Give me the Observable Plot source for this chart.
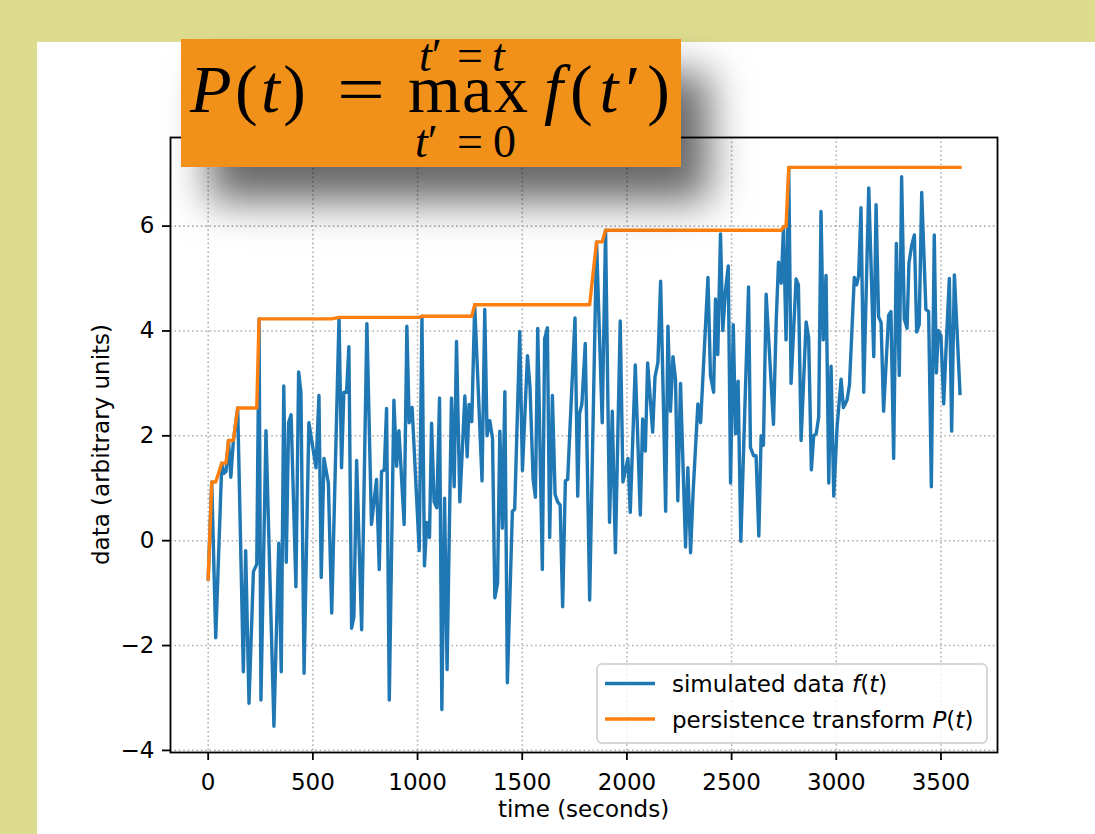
<!DOCTYPE html>
<html>
<head>
<meta charset="utf-8">
<script src="https://cdn.jsdelivr.net/npm/d3@7"></script>
<script src="https://cdn.jsdelivr.net/npm/@observablehq/plot@0.6"></script>
<style>
  html, body { margin: 0; padding: 0; }
  body { width: 1095px; height: 834px; background: #dcdb8e; position: relative; overflow: hidden; font-family: "DejaVu Sans", sans-serif; }
  #panel { position: absolute; left: 37px; top: 42px; width: 1058px; height: 792px; background: #ffffff; }
  #chart { position: absolute; left: 0; top: 0; }
  #overlay { position: absolute; left: 0; top: 0; pointer-events: none; }
  #title { position: absolute; left: 181px; top: 39px; width: 500px; height: 128px; background: #f2911a; box-shadow: 28px 34px 42px rgba(0,0,0,0.6); }
  #title svg { position: absolute; left: 0; top: 0; overflow: visible; }
</style>
</head>
<body>
<div id="panel"></div>
<div id="chart"></div>
<svg id="overlay" width="1095" height="834" font-family="DejaVu Sans" font-size="23" fill="#000"></svg>
<div id="title">
  <svg width="500" height="128" font-family="'Liberation Serif', 'DejaVu Serif', serif" fill="#000">
    <text x="9" y="73" font-size="68" textLength="116" lengthAdjust="spacing"><tspan font-style="italic">P</tspan>(<tspan font-style="italic">t</tspan>)</text>
    <text x="156" y="73" font-size="68" textLength="48" lengthAdjust="spacingAndGlyphs">=</text>
    <text font-size="68"><tspan x="227 281 313" y="73">max</tspan><tspan x="238" y="32" font-size="46" font-style="italic">t</tspan><tspan font-size="46">′</tspan><tspan x="276" y="32" font-size="46">=</tspan><tspan x="311" y="32" font-size="46" font-style="italic">t</tspan><tspan x="234" y="118" font-size="46" font-style="italic">t</tspan><tspan font-size="46">′</tspan><tspan x="276" y="118" font-size="46">=</tspan><tspan x="312" y="118" font-size="46">0</tspan></text>
    <text x="363" y="73" font-size="68" textLength="126" lengthAdjust="spacing"><tspan font-style="italic">f</tspan>(<tspan font-style="italic">t</tspan>′)</text>
  </svg>
</div>
<script>
// time in seconds
const time = [
  0,17,36,65,73,85,97,108,120,141,168,179,195,216,232,243,252,276,314,337,349,361,373,384,396,419,432,443,458,481,515,529,540,553,
  574,590,625,637,648,661,672,685,696,709,733,758,780,804,817,828,841,852,865,887,900,911,936,949,960,974,1008,1021,1033,1044,1057,1067,1079,1092,1105,1116,1129,1141,1162,1175,
  1186,1202,1226,1237,1246,1259,1273,1308,1321,1332,1345,1358,1369,1382,1393,1405,1417,1429,1453,1464,1488,1501,1525,1537,1552,1563,1574,1596,1607,1620,1631,1644,1657,1669,1681,1693,1706,1717,1752,1765,1774,
  1785,1801,1822,1855,1882,1898,1917,1930,1945,1968,1981,2005,2016,2040,2064,2075,2088,2099,2123,2134,2148,2161,2174,2185,2196,2208,2220,2232,2243,2256,2280,2291,2304,2317,2339,2352,
  2387,2399,2414,2423,2434,2447,2458,2471,2484,2495,2508,2519,2531,2544,2581,2590,2605,2617,2630,2641,2652,2665,2700,2713,2724,2737,2748,2760,2773,2784,2808,2819,2832,2856,2868,2881,2892,2904,2916,2927,2938,2951,2964,
  2975,2988,3004,3023,3034,3051,3063,3086,3097,3107,3118,3131,3155,3179,3190,3202,3214,3226,3250,3261,3274,3287,3301,3312,3325,3338,3347,3360,3373,3384,3396,3408,3428,3441,3454,3468,3478,3487,3500,3513,3527,3540,3551,3564,3591
];
// simulated data f(t)
const simulated = [
  -0.73,1.12,-1.85,1.48,1.28,1.32,1.91,1.21,1.89,2.53,-2.5,-0.19,-3.1,-0.59,-0.45,4.23,-3.04,2.1,-3.54,-0.05,-2.5,2.95,-0.41,2.25,2.4,-0.88,3.22,2.83,-2.53,2.25,1.39,2.77,-0.7,1.57,
  1.1,-1.38,4.26,1.39,2.83,2.83,3.7,-1.67,-1.45,1.53,-1.7,4.14,0.31,1.17,-0.55,1.32,1.35,2.52,-3.04,2.68,1.42,2.1,0.31,4.09,2.25,2.54,-0.19,4.28,-0.48,0.35,0.06,2.24,0.74,0.63,2.72,-3.22,0.81,-2.46,2.72,1.03,
  3.8,0.74,2.76,1.6,2.6,2.27,4.5,1.14,4.41,2.0,2.29,1.96,-1.09,-0.81,2.09,0.24,2.84,-2.71,0.56,0.6,3.99,1.34,3.53,2.94,1.17,0.83,4.05,-0.55,3.85,4.06,0.06,2.77,0.88,0.74,0.68,-1.26,1.14,1.17,4.25,0.85,2.43,
  2.61,3.76,-1.13,5.7,2.25,5.92,0.35,2.47,-0.23,4.19,1.12,1.57,0.54,3.35,0.49,2.32,1.71,3.39,2.07,3.12,3.4,4.95,2.65,0.56,4.09,2.47,3.51,3.08,0.76,3.0,-0.12,1.39,-0.23,0.99,2.61,2.25,
  5.02,3.15,2.83,4.61,3.55,5.85,4.01,4.78,5.24,1.1,4.12,2.04,3.04,-0.01,4.84,1.78,1.62,1.62,0.09,2.0,1.82,4.7,2.22,4.19,5.31,4.91,5.99,3.83,7.12,3.0,4.99,4.88,1.91,4.17,3.87,1.35,2.0,2.04,2.36,6.28,3.83,5.06,1.1,
  3.33,0.85,2.18,3.08,2.54,2.68,2.97,5.02,4.88,5.06,6.35,2.83,6.73,3.51,6.41,4.27,4.16,2.47,4.3,4.37,1.57,5.67,3.15,6.94,4.23,4.05,5.29,5.63,5.83,3.98,4.12,6.64,4.41,4.37,1.03,5.83,3.2,4.01,3.91,2.61,3.91,5.0,2.09,5.07,2.81
];
// persistence transform P(t)
const persistence = [
  -0.73,1.12,1.12,1.48,1.48,1.48,1.91,1.91,1.91,2.53,2.53,2.53,2.53,2.53,2.53,4.23,4.23,4.23,4.23,4.23,4.23,4.23,4.23,4.23,4.23,4.23,4.23,4.23,4.23,4.23,4.23,4.23,4.23,4.23,
  4.23,4.23,4.26,4.26,4.26,4.26,4.26,4.26,4.26,4.26,4.26,4.26,4.26,4.26,4.26,4.26,4.26,4.26,4.26,4.26,4.26,4.26,4.26,4.26,4.26,4.26,4.26,4.28,4.28,4.28,4.28,4.28,4.28,4.28,4.28,4.28,4.28,4.28,4.28,4.28,
  4.28,4.28,4.28,4.28,4.28,4.28,4.5,4.5,4.5,4.5,4.5,4.5,4.5,4.5,4.5,4.5,4.5,4.5,4.5,4.5,4.5,4.5,4.5,4.5,4.5,4.5,4.5,4.5,4.5,4.5,4.5,4.5,4.5,4.5,4.5,4.5,4.5,4.5,4.5,4.5,4.5,
  4.5,4.5,4.5,5.7,5.7,5.92,5.92,5.92,5.92,5.92,5.92,5.92,5.92,5.92,5.92,5.92,5.92,5.92,5.92,5.92,5.92,5.92,5.92,5.92,5.92,5.92,5.92,5.92,5.92,5.92,5.92,5.92,5.92,5.92,5.92,5.92,
  5.92,5.92,5.92,5.92,5.92,5.92,5.92,5.92,5.92,5.92,5.92,5.92,5.92,5.92,5.92,5.92,5.92,5.92,5.92,5.92,5.92,5.92,5.92,5.92,5.92,5.92,5.99,5.99,7.12,7.12,7.12,7.12,7.12,7.12,7.12,7.12,7.12,7.12,7.12,7.12,7.12,7.12,7.12,
  7.12,7.12,7.12,7.12,7.12,7.12,7.12,7.12,7.12,7.12,7.12,7.12,7.12,7.12,7.12,7.12,7.12,7.12,7.12,7.12,7.12,7.12,7.12,7.12,7.12,7.12,7.12,7.12,7.12,7.12,7.12,7.12,7.12,7.12,7.12,7.12,7.12,7.12,7.12,7.12,7.12,7.12,7.12,7.12,7.12
];
const xTicks = [0, 500, 1000, 1500, 2000, 2500, 3000, 3500];
const yTicks = [-4, -2, 0, 2, 4, 6];
const seriesNames = ["simulated data", "persistence transform"];
const seriesColors = ["#1f77b4", "#ff7f0e"];
const xLabel = "time (seconds)";
const yLabel = "data (arbitrary units)";

const rows = time.map((t, i) => ({t, f: simulated[i], p: persistence[i]}));
const gridStyle = {stroke: "#b0b0b0", strokeOpacity: 1, strokeWidth: 1.6, strokeDasharray: "1.6,2.8"};

const chart = Plot.plot({
  width: 1095,
  height: 834,
  marginLeft: 170,
  marginRight: 98,
  marginTop: 137,
  marginBottom: 82,
  style: {background: "transparent", fontFamily: "DejaVu Sans", fontSize: "23px", color: "#000", overflow: "visible"},
  x: {domain: [-180, 3770]},
  y: {domain: [-4.04, 7.69]},
  marks: [
    Plot.gridX(xTicks, gridStyle),
    Plot.gridY(yTicks, gridStyle),
    Plot.line(rows, {x: "t", y: "f", stroke: seriesColors[0], strokeWidth: 3.4, strokeLinejoin: "round", strokeLinecap: "square"}),
    Plot.line(rows, {x: "t", y: "p", stroke: seriesColors[1], strokeWidth: 3.4, strokeLinejoin: "round", strokeLinecap: "square"}),
    Plot.frame({stroke: "#000", strokeWidth: 1.8}),
    Plot.axisX(xTicks, {tickSize: 8, tickPadding: 13, strokeWidth: 1.8, tickFormat: d => String(d), label: null}),
    Plot.axisY(yTicks, {tickSize: 8, tickPadding: 8, strokeWidth: 1.8, tickFormat: d => d < 0 ? "\u2212" + (-d) : String(d), label: null})
  ]
});
document.getElementById("chart").appendChild(chart);

// axis labels and legend
const ov = d3.select("#overlay");
ov.append("text").attr("x", 583.5).attr("y", 817).attr("text-anchor", "middle").text(xLabel);
ov.append("text").attr("transform", "translate(109,444.5) rotate(-90)").attr("text-anchor", "middle").text(yLabel);

const lg = ov.append("g");
lg.append("rect").attr("x", 597).attr("y", 664).attr("width", 390).attr("height", 79).attr("rx", 5)
  .attr("fill", "rgba(255,255,255,0.8)").attr("stroke", "#d6d6d6").attr("stroke-width", 2);
const symbols = ["f", "P"];
[0, 1].forEach(i => {
  const yLine = i === 0 ? 683.5 : 719;
  const yText = i === 0 ? 692 : 727.5;
  lg.append("line").attr("x1", 605).attr("x2", 655).attr("y1", yLine).attr("y2", yLine)
    .attr("stroke", seriesColors[i]).attr("stroke-width", 3.4);
  const tx = lg.append("text").attr("x", 672).attr("y", yText);
  tx.append("tspan").text(seriesNames[i] + " ");
  tx.append("tspan").attr("font-style", "italic").text(symbols[i]);
  tx.append("tspan").text("(");
  tx.append("tspan").attr("font-style", "italic").text("t");
  tx.append("tspan").text(")");
});
</script>
</body>
</html>
